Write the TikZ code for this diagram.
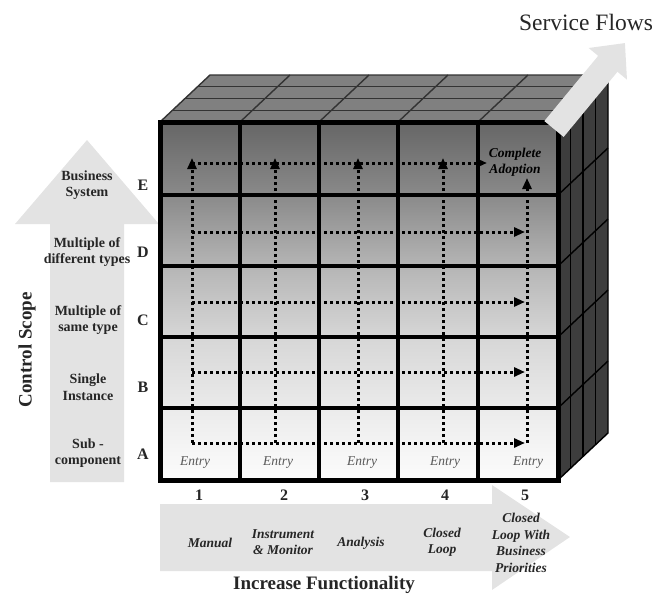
\documentclass[tikz,border=0pt]{standalone}
\usepackage{fontspec}
\setmainfont{Liberation Serif}
\usetikzlibrary{arrows.meta}

\pgfdeclareverticalshading{facefade}{100bp}{color(0bp)=(black!1); color(25bp)=(black!1); color(35.1bp)=(black!8); color(45bp)=(black!16); color(54.9bp)=(black!29); color(64.8bp)=(black!46); color(75bp)=(black!60); color(100bp)=(black!60)}

\begin{document}
\begin{tikzpicture}[x=1pt,y=-1pt]
    \useasboundingbox (0,0) rectangle (657,598);

    \tikzset{ArrowFill/.style = {fill=black!11}}
    \fill[ArrowFill] (50,482) -- (50,224) -- (15,224) -- (87,140) -- (159,224) -- (124,224) -- (124,482) -- cycle;
    \fill[ArrowFill] (160,504) -- (492,504) -- (492,485) -- (570,537) -- (492,590) -- (492,571) -- (160,571) -- cycle;

    \tikzset{TopLine/.style = {line width=1.4, black!80}}
    \fill[black!50] (160,122) -- (210,75) -- (608,75) -- (558,122) -- cycle;
    \foreach \d in {1,2,3}
        \draw[TopLine] ({160+12.5*\d},{122-11.75*\d}) -- ++(398,0);
    \foreach \x in {240,319,398,478}
        \draw[TopLine] (\x,122) -- ++(50,-47);
    \draw[TopLine] (160,122) -- (210,75) -- (608,75);

    \fill[black!76] (558,122) -- (608,75) -- (608,433) -- (558,480) -- cycle;
    \foreach \d in {1,2,3}
        \draw[TopLine, black] ({558+12.5*\d},{122-11.75*\d}) -- ++(0,358);
    \foreach \y in {195,266,337,408}
        \draw[TopLine, black] (558,\y) -- ++(50,-47);
    \draw[TopLine, black] (608,75) -- (608,433) -- (558,480);

    \tikzset{GridLine/.style = {line width=4, black}}
    \shade[shading=facefade] (160,122) rectangle (558,480);
    \foreach \x in {240,319,398,478}
        \draw[GridLine] (\x,122) -- (\x,480);
    \foreach \y in {195,266,337,408}
        \draw[GridLine] (160,\y) -- (558,\y);
    \draw[GridLine, line width=5] (160,122) rectangle (558,480);

    \tikzset{PathStyle/.style = {line width=3, dash pattern=on 3pt off 3pt, -{Triangle[length=11pt,width=9pt]}}}
    \draw[PathStyle] (192,443) -- (525,443);
    \draw[PathStyle] (192,372) -- (525,372);
    \draw[PathStyle] (192,302) -- (525,302);
    \draw[PathStyle] (192,232) -- (525,232);
    \draw[PathStyle] (192,163) -- (487,163);
    \draw[PathStyle] (192,443) -- (192,158);
    \draw[PathStyle] (275,443) -- (275,158);
    \draw[PathStyle] (358,443) -- (358,158);
    \draw[PathStyle] (443,443) -- (443,158);
    \draw[PathStyle] (527,443) -- (527,178);

    \draw[line width=25, black!11, -{Triangle[length=27pt,width=48pt]}] (554,129) -- (625,43);

    \tikzset{ScopeStyle/.style = {font=\bfseries\fontsize{14}{16.5}\selectfont, align=center, text=black!85}}
    \node[ScopeStyle] (business) at (87,185) {Business\\System};
    \node[ScopeStyle] (multdiff) at (87,252) {Multiple of\\different types};
    \node[ScopeStyle] (multsame) at (88,320) {Multiple of\\same type};
    \node[ScopeStyle] (single)   at (88,387) {Single\\Instance};
    \node[ScopeStyle] (subcomp)  at (88,453) {Sub -\\component};

    \tikzset{LevelStyle/.style = {font=\bfseries\fontsize{16}{18}\selectfont, text=black!85}}
    \node[LevelStyle] (levelE) at (143,185) {E};
    \node[LevelStyle] (levelD) at (143,252) {D};
    \node[LevelStyle] (levelC) at (143,320) {C};
    \node[LevelStyle] (levelB) at (143,387) {B};
    \node[LevelStyle] (levelA) at (143,454) {A};
    \node[LevelStyle] (num1) at (199,495) {1};
    \node[LevelStyle] (num2) at (284,495) {2};
    \node[LevelStyle] (num3) at (365,495) {3};
    \node[LevelStyle] (num4) at (445,495) {4};
    \node[LevelStyle] (num5) at (525,495) {5};

    \tikzset{EntryStyle/.style = {font=\itshape\fontsize{13.5}{16}\selectfont, text=black!65}}
    \node[EntryStyle] (entry1) at (195,463) {Entry};
    \node[EntryStyle] (entry2) at (278,463) {Entry};
    \node[EntryStyle] (entry3) at (362,463) {Entry};
    \node[EntryStyle] (entry4) at (445,463) {Entry};
    \node[EntryStyle] (entry5) at (528,463) {Entry};

    \tikzset{FuncStyle/.style = {font=\bfseries\itshape\fontsize{13.5}{16.5}\selectfont, align=center, text=black!85}}
    \node[FuncStyle, text=black] (adoption) at (515,162) {Complete\\Adoption};
    \node[FuncStyle] (manual)    at (210,543) {Manual};
    \node[FuncStyle] (instr)     at (283,542) {Instrument\\\& Monitor};
    \node[FuncStyle] (analysis)  at (361,543) {Analysis};
    \node[FuncStyle] (closed)    at (442,542) {Closed\\Loop};
    \node[FuncStyle] (closedbiz) at (521,543) {Closed\\Loop With\\Business\\Priorities};

    \tikzset{TitleStyle/.style = {font=\bfseries\fontsize{19}{22}\selectfont, text=black!85}}
    \node[TitleStyle, rotate=90] (control) at (27,350) {Control Scope};
    \node[TitleStyle] (increase) at (324,585) {Increase Functionality};
    \node[font=\fontsize{23.5}{26}\selectfont, text=black!85] (service) at (586,22) {Service Flows};
\end{tikzpicture}
\end{document}
